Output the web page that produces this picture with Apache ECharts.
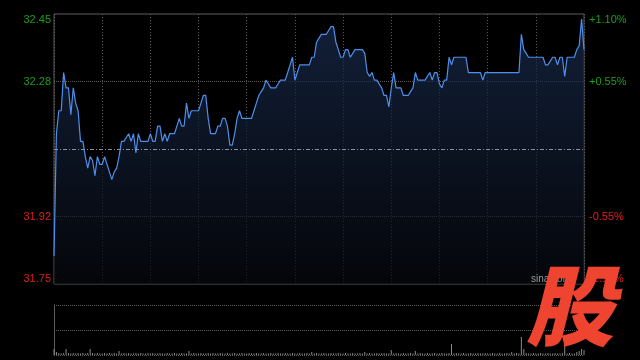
<!DOCTYPE html>
<html>
<head>
<meta charset="utf-8">
<script src="https://cdn.jsdelivr.net/npm/echarts@6/dist/echarts.min.js"></script>
<style>
html,body{margin:0;padding:0;background:#000;}
#chart{width:640px;height:360px;}
</style>
</head>
<body>
<div id="chart"></div>
<script>
const prevClose = 32.10;
const pctRange = 0.011;
const prices = [
31.82,32.14,32.20,32.20,32.30,32.26,32.26,32.19,32.26,32.22,
32.20,32.12,32.12,32.08,32.05,32.08,32.07,32.03,32.08,32.06,
32.06,32.08,32.06,32.04,32.02,32.04,32.05,32.08,32.12,32.12,
32.13,32.14,32.12,32.14,32.09,32.14,32.12,32.12,32.12,32.12,
32.14,32.12,32.12,32.16,32.16,32.12,32.14,32.12,32.14,32.14,
32.14,32.16,32.18,32.16,32.16,32.22,32.18,32.20,32.20,32.20,
32.20,32.22,32.24,32.24,32.18,32.14,32.14,32.14,32.16,32.16,
32.18,32.18,32.16,32.11,32.11,32.14,32.18,32.20,32.18,32.18,
32.18,32.18,32.18,32.20,32.22,32.24,32.25,32.26,32.28,32.27,
32.26,32.26,32.26,32.27,32.28,32.28,32.28,32.30,32.32,32.34,
32.28,32.30,32.32,32.32,32.32,32.32,32.32,32.34,32.34,32.38,
32.39,32.40,32.40,32.40,32.41,32.42,32.42,32.38,32.36,32.34,
32.34,32.36,32.36,32.34,32.35,32.36,32.36,32.36,32.36,32.35,
32.30,32.29,32.30,32.28,32.28,32.27,32.26,32.24,32.24,32.21,
32.26,32.30,32.26,32.26,32.26,32.24,32.24,32.24,32.25,32.26,
32.30,32.28,32.28,32.28,32.28,32.29,32.30,32.28,32.30,32.30,
32.27,32.26,32.28,32.28,32.34,32.32,32.34,32.34,32.34,32.34,
32.34,32.34,32.30,32.30,32.30,32.30,32.30,32.30,32.28,32.30,
32.30,32.30,32.30,32.30,32.30,32.30,32.30,32.30,32.30,32.30,
32.30,32.30,32.30,32.30,32.40,32.36,32.35,32.34,32.34,32.34,
32.34,32.34,32.34,32.34,32.32,32.32,32.33,32.34,32.34,32.32,
32.34,32.34,32.29,32.34,32.34,32.34,32.34,32.36,32.37,32.44,
32.36
];
const volumes = [
600,300,200,150,200,600,200,150,200,150,
200,150,200,150,200,600,200,150,200,150,
150,200,150,200,150,200,150,400,150,200,
150,200,150,150,200,150,200,150,150,200,
150,200,150,150,200,150,150,200,150,150,
200,150,150,200,150,150,400,150,200,150,
150,200,150,150,200,150,200,150,150,200,
150,150,200,150,150,200,150,150,200,150,
150,200,150,150,200,150,150,200,150,150,
200,150,150,200,150,150,200,150,150,200,
150,150,200,150,150,200,150,300,150,200,
150,150,200,150,150,200,150,150,200,150,
150,200,150,150,200,150,150,200,150,300,
150,200,150,150,200,150,150,200,150,150,
500,150,200,150,150,200,150,150,200,150,
400,150,200,150,150,200,150,150,200,150,
150,200,150,150,200,1100,150,200,150,150,
200,150,150,200,150,150,200,150,150,200,
150,150,200,150,150,200,150,150,200,150,
300,150,200,150,1800,600,200,150,150,200,
150,150,200,150,150,200,150,150,200,150,
150,200,1300,150,200,150,150,300,400,600,
500
];
const categories = prices.map((_, i) => String(i));
const leftLabels = ['31.75', '31.92', '', '32.28', '32.45'];
const rightLabels = ['-1.10%', '-0.55%', '', '+0.55%', '+1.10%'];

const RED = '#e01e1e', GREEN = '#1b9e1b', GRID = '#5a5a5a';
const labelColor = (v) => (Number(v) < 2 ? RED : GREEN);
const font = 'Liberation Sans, Arial, sans-serif';

const chart = echarts.init(document.getElementById('chart'));
chart.setOption({
  backgroundColor: '#000',
  animation: false,
  grid: [
    {left: 54, right: 56, top: 14, height: 270, show: true, borderColor: '#5c5c5c', borderWidth: 1, backgroundColor: 'transparent'},
    {left: 54, right: 56, top: 305, height: 50}
  ],
  xAxis: [
    {type: 'category', gridIndex: 0, data: categories, boundaryGap: false,
     axisLine: {show: false}, axisTick: {show: false}, axisLabel: {show: false},
     splitLine: {show: true, interval: 19, lineStyle: {color: GRID, type: [1, 2], width: 1}}},
    {type: 'category', gridIndex: 1, data: categories, boundaryGap: false,
     axisLine: {show: false}, axisTick: {show: false}, axisLabel: {show: false}, splitLine: {show: false}}
  ],
  yAxis: [
    {type: 'value', gridIndex: 0, min: prevClose * (1 - pctRange), max: prevClose * (1 + pctRange), show: false},
    {type: 'value', gridIndex: 0, min: 0, max: 4, interval: 1, position: 'left',
     axisLine: {show: false}, axisTick: {show: false},
     axisLabel: {formatter: (v) => leftLabels[v], color: labelColor, fontSize: 11, fontFamily: font, margin: 3,
                 verticalAlignMinLabel: 'bottom', verticalAlignMaxLabel: 'top'},
     splitLine: {show: true, lineStyle: {color: ['transparent', GRID, 'transparent', GRID, 'transparent'], type: [1, 1], width: 1}}},
    {type: 'value', gridIndex: 0, min: 0, max: 4, interval: 1, position: 'right',
     axisLine: {show: false}, axisTick: {show: false},
     axisLabel: {formatter: (v) => rightLabels[v], color: labelColor, fontSize: 11, fontFamily: font, margin: 5,
                 verticalAlignMinLabel: 'bottom', verticalAlignMaxLabel: 'top'},
     splitLine: {show: false}},
    {type: 'value', gridIndex: 1, min: 0, max: 5000, interval: 2500,
     axisLine: {show: true, lineStyle: {color: '#5c5c5c'}}, axisTick: {show: false}, axisLabel: {show: false},
     splitLine: {show: true, lineStyle: {color: GRID, type: [1, 1], width: 1}}}
  ],
  series: [
    {type: 'line', xAxisIndex: 0, yAxisIndex: 0, data: prices, showSymbol: false, symbol: 'none',
     lineStyle: {color: '#4d8fec', width: 1.2},
     areaStyle: {color: new echarts.graphic.LinearGradient(0, 0, 0, 1, [
       {offset: 0, color: '#1a2d50'}, {offset: 1, color: '#06080e'}])},
     markLine: {silent: true, symbol: 'none', label: {show: false}, animation: false,
       lineStyle: {color: '#8a90a0', type: [4, 2, 1, 2], width: 1},
       data: [{yAxis: prevClose}]}},
    {type: 'bar', xAxisIndex: 1, yAxisIndex: 3, data: volumes, barWidth: 1,
     itemStyle: {color: '#8a8a8a'}}
  ],
  graphic: [
    {type: 'text', left: 531, top: 274, z: 50,
     style: {text: 'sina.com', fill: '#9a9a9a', font: '10px ' + font}},
    {type: 'text', left: 526, top: 262, z: 100,
     style: {text: '股', fill: '#ee4430', font: 'italic 900 88px "Noto Sans CJK SC"'}}
  ]
});
</script>
</body>
</html>
